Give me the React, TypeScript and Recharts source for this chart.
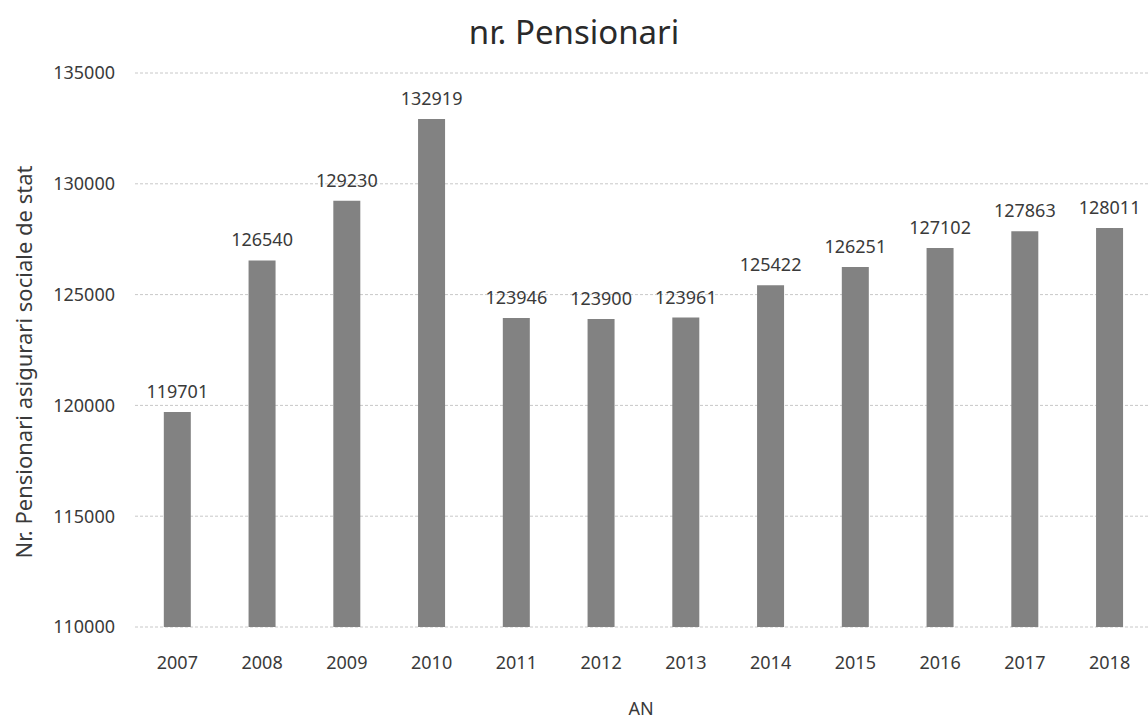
import { Bar, BarChart, CartesianGrid, LabelList, XAxis, YAxis } from "recharts";

const YEARS = ["2007", "2008", "2009", "2010", "2011", "2012", "2013", "2014", "2015", "2016", "2017", "2018"];
const PENSIONARI = [119701, 126540, 129230, 132919, 123946, 123900, 123961, 125422, 126251, 127102, 127863, 128011];
const Y_TICKS = [110000, 115000, 120000, 125000, 130000, 135000];

const data = YEARS.map((an, i) => ({ an, val: PENSIONARI[i] }));

const FONT = "'Noto Sans', 'Open Sans', sans-serif";
const TEXT = "#3a3a3a";

export default function App() {
  return (
    <div
      style={{
        position: "absolute",
        left: 0,
        top: 0,
        width: 1148,
        height: 720,
        overflow: "hidden",
        background: "#fff",
        fontFamily: FONT,
      }}
    >
      <div
        style={{
          position: "absolute",
          left: 0,
          width: 1148,
          top: 9,
          textAlign: "center",
          fontSize: 33,
          color: "#2a2a2a",
        }}
      >
        nr. Pensionari
      </div>
      <BarChart
        width={1160}
        height={720}
        data={data}
        margin={{ top: 73, right: 8, bottom: 33, left: 35 }}
        barCategoryGap="34%"
      >
        <CartesianGrid stroke="#c8c8c8" strokeDasharray="3 2" vertical={false} />
        <XAxis
          dataKey="an"
          height={60}
          axisLine={false}
          tickLine={false}
          tickMargin={23}
          tick={{ fill: TEXT, fontSize: 18, fontFamily: FONT }}
          label={{
            content: () => (
              <text x={641} y={715} textAnchor="middle" fill={TEXT} fontSize={18} fontFamily={FONT}>
                AN
              </text>
            ),
          }}
        />
        <YAxis
          width={100}
          domain={[110000, 135000]}
          ticks={Y_TICKS}
          axisLine={false}
          tickLine={false}
          tickMargin={14}
          allowDataOverflow
          tick={{ fill: TEXT, fontSize: 18, fontFamily: FONT }}
          label={{
            content: () => (
              <text
                x={32}
                y={362}
                transform="rotate(-90 32 362)"
                textAnchor="middle"
                fill={TEXT}
                fontSize={22}
                fontFamily={FONT}
              >
                Nr. Pensionari asigurari sociale de stat
              </text>
            ),
          }}
        />
        <Bar dataKey="val" fill="#828282" isAnimationActive={false}>
          <LabelList
            dataKey="val"
            position="top"
            offset={14}
            fill={TEXT}
            fontSize={18}
            fontFamily={FONT}
          />
        </Bar>
      </BarChart>
    </div>
  );
}
